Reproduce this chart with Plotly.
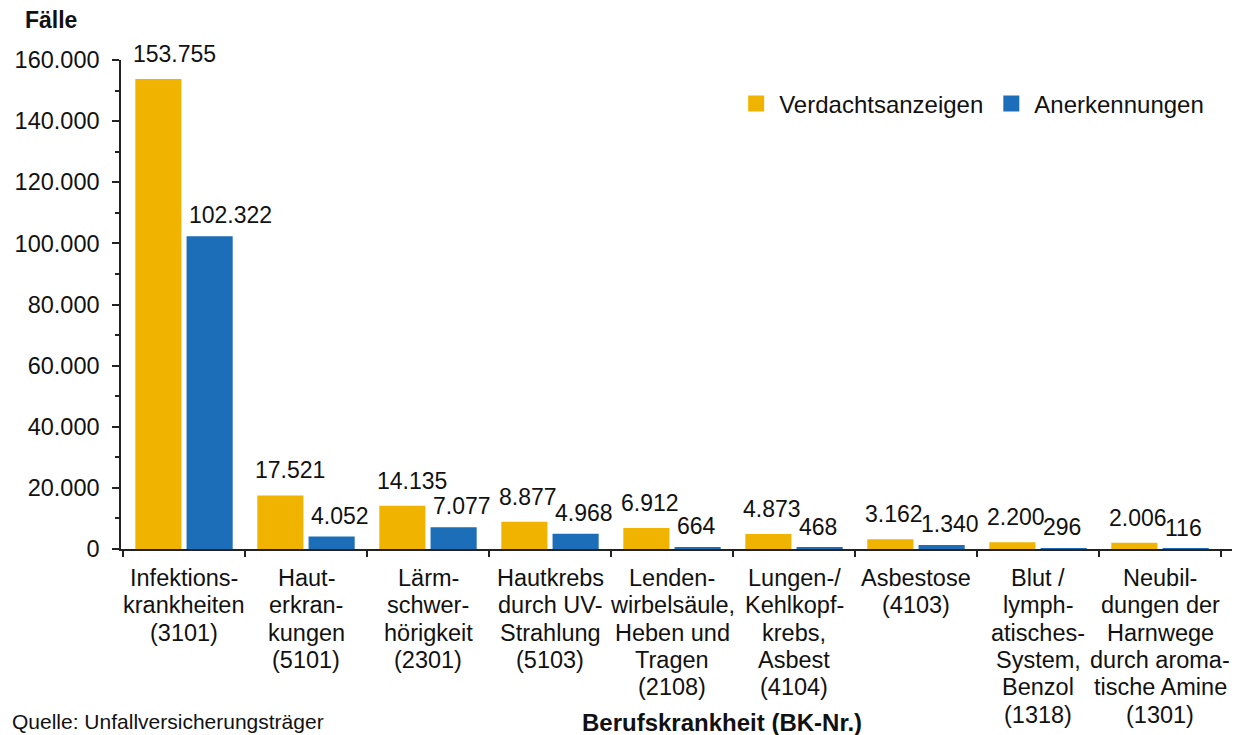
import plotly.graph_objects as go

categories = [
    "Infektions-<br>krankheiten<br>(3101)",
    "Haut-<br>erkran-<br>kungen<br>(5101)",
    "Lärm-<br>schwer-<br>hörigkeit<br>(2301)",
    "Hautkrebs<br>durch UV-<br>Strahlung<br>(5103)",
    "Lenden-<br>wirbelsäule,<br>Heben und<br>Tragen<br>(2108)",
    "Lungen-/<br>Kehlkopf-<br>krebs,<br>Asbest<br>(4104)",
    "Asbestose<br>(4103)",
    "Blut /<br>lymph-<br>atisches-<br>System,<br>Benzol<br>(1318)",
    "Neubil-<br>dungen der<br>Harnwege<br>durch aroma-<br>tische Amine<br>(1301)",
]
verdachtsanzeigen = [153755, 17521, 14135, 8877, 6912, 4873, 3162, 2200, 2006]
anerkennungen = [102322, 4052, 7077, 4968, 664, 468, 1340, 296, 116]

YELLOW = "#F0B400"
BLUE = "#1C6EB8"
FONT = "Liberation Sans, Arial, sans-serif"
TXT = "#111111"


def fmt(v):
    return f"{v:,}".replace(",", ".")


fig = go.Figure()
for vals, nm, col in [(verdachtsanzeigen, "Verdachtsanzeigen", YELLOW),
                      (anerkennungen, "Anerkennungen", BLUE)]:
    fig.add_trace(go.Bar(
        x=categories, y=vals, name=nm, marker_color=col, marker_line_width=0,
        showlegend=False,
    ))
# legend proxies with larger square symbols
for nm, col in [("Verdachtsanzeigen", YELLOW), ("Anerkennungen", BLUE)]:
    fig.add_trace(go.Scatter(
        x=[None], y=[None], mode="markers", name=nm,
        marker=dict(symbol="square", size=20, color=col),
    ))

# value labels, left-aligned over each bar
for vals, dx, dy in [(verdachtsanzeigen, -53, 10), (anerkennungen, 3, 6)]:
    for cat, v in zip(categories, vals):
        fig.add_annotation(text=fmt(v), x=cat, y=v, xref="x", yref="y",
                           xanchor="left", yanchor="bottom", xshift=dx, yshift=dy,
                           showarrow=False, font=dict(size=23))

fig.update_layout(
    width=1251, height=735,
    margin=dict(l=121, r=19, t=60, b=186),
    paper_bgcolor="white", plot_bgcolor="white",
    font=dict(family=FONT, size=23, color=TXT),
    separators=",.",
    barmode="group", bargap=0.16, bargroupgap=0.1,
    legend=dict(orientation="h", x=0.551, y=0.91, xanchor="left", yanchor="middle",
                font=dict(size=24), itemwidth=36, bgcolor="rgba(0,0,0,0)"),
)
fig.update_yaxes(
    range=[0, 160000], tickmode="linear", tick0=0, dtick=20000, tickformat=",",
    showgrid=False, zeroline=False, showline=True, linecolor="#222", linewidth=1.5,
    ticks="outside", ticklen=7, tickwidth=1.5, tickcolor="#222",
    ticklabelstandoff=8, tickfont=dict(size=23.5),
    minor=dict(dtick=10000, ticks="outside", ticklen=4, tickcolor="#222", tickwidth=1.5),
)
fig.update_xaxes(
    showgrid=False, showline=True, linecolor="#222", linewidth=1.5,
    ticks="outside", tickson="boundaries", ticklen=6, tickwidth=1.5, tickcolor="#222",
    showticklabels=False,
)
# category labels, one annotation per line for the tight line spacing
for cat in categories:
    for i, line in enumerate(cat.split("<br>")):
        fig.add_annotation(text=line, x=cat, y=0, xref="x", yref="y",
                           xanchor="center", yanchor="middle",
                           yshift=-(29 + 27.3 * i), showarrow=False,
                           font=dict(size=23.5))
fig.add_annotation(text="<b>Fälle</b>", xref="paper", yref="paper",
                   x=-0.088, y=1.082, xanchor="left", yanchor="middle",
                   showarrow=False, font=dict(size=23))
fig.add_annotation(text="<b>Berufskrankheit (BK-Nr.)</b>", xref="paper", yref="paper",
                   x=0.541, y=-0.354, xanchor="center", yanchor="middle",
                   showarrow=False, font=dict(size=24))
fig.add_annotation(text="Quelle: Unfallversicherungsträger", xref="paper", yref="paper",
                   x=-0.1, y=-0.352, xanchor="left", yanchor="middle",
                   showarrow=False, font=dict(size=21))

fig.write_html("out.html", config={"displayModeBar": False},
               post_script="document.body.style.margin='0';")
